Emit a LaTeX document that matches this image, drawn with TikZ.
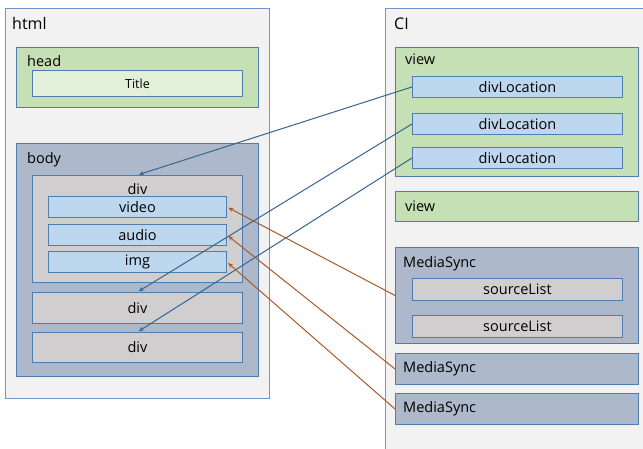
\documentclass[tikz,border=0pt]{standalone}
\usepackage{fontspec}
\setmainfont{Open Sans}
\usetikzlibrary{arrows.meta,positioning}
\definecolor{cEdge}{RGB}{80,125,175}
\definecolor{cFrame}{RGB}{110,150,200}
\definecolor{cPage}{RGB}{242,242,242}
\definecolor{cView}{RGB}{197,224,180}
\definecolor{cTitle}{RGB}{226,240,217}
\definecolor{cSync}{RGB}{173,185,202}
\definecolor{cDiv}{RGB}{208,206,206}
\definecolor{cItem}{RGB}{189,215,238}
\definecolor{cLink}{RGB}{55,100,145}
\definecolor{cMedia}{RGB}{170,90,40}

\begin{document}
\begin{tikzpicture}[x=1pt,y=-1pt,>={Stealth[length=5pt,width=4pt]},
  font=\fontsize{14.5}{16}\selectfont,
  box/.style={draw=cEdge,line width=0.9pt,anchor=north west,inner sep=0pt},
  frame/.style={box,draw=cFrame,fill=cPage},
  viewbox/.style={box,fill=cView},
  syncbox/.style={box,fill=cSync},
  divbox/.style={box,fill=cDiv},
  itembox/.style={box,fill=cItem},
  tag/.style={anchor=base west,inner sep=0pt},
  link/.style={->,cLink,line width=1pt,shorten >=1.5pt},
  media/.style={->,cMedia,line width=1pt,shorten >=1.5pt}]
  \clip (0,0) rectangle (643,448);
  % page side
  \node[frame,minimum width=264pt,minimum height=390pt] (html) at (5,8) {};
  \node[tag,font=\fontsize{16}{18}\selectfont] (html-tag) at ([shift={(7pt,-21pt)}]html.north west) {html};
  \node[viewbox,minimum width=242pt,minimum height=60pt] (head) at (16,47) {};
  \node[tag] (head-tag) at ([shift={(11pt,-19pt)}]head.north west) {head};
  \node[box,fill=cTitle,minimum width=210pt,minimum height=26pt,font=\fontsize{12.5}{14}\selectfont] (title) at (32,70) {Title};
  \node[syncbox,minimum width=242pt,minimum height=233pt] (body) at (16,143) {};
  \node[tag] (body-tag) at ([shift={(11pt,-20pt)}]body.north west) {body};
  \node[divbox,minimum width=210pt,minimum height=107pt] (div1) at (32,175) {};
  \node[anchor=base,inner sep=0pt] (div1-tag) at ([yshift=-19pt]div1.north) {div};
  \node[itembox,minimum width=178pt,minimum height=21pt] (video) at (48,196) {video};
  \node[itembox,minimum width=178pt,minimum height=21pt] (audio) at (48,224) {audio};
  \node[itembox,minimum width=178pt,minimum height=21pt] (img) at (48,251) {img};
  \node[divbox,minimum width=210pt,minimum height=31pt] (div2) at (32,292) {div};
  \node[divbox,minimum width=210pt,minimum height=30pt] (div3) at (32,332) {div};
  % CI side
  \node[frame,minimum width=270pt,minimum height=450pt] (ci) at (385,8) {};
  \node[tag,font=\fontsize{16}{18}\selectfont] (ci-tag) at ([shift={(9pt,-21pt)}]ci.north west) {CI};
  \node[viewbox,minimum width=243pt,minimum height=129pt] (view1) at (395,47) {};
  \node[tag] (view1-tag) at ([shift={(10pt,-17pt)}]view1.north west) {view};
  \node[itembox,minimum width=210pt,minimum height=21pt] (loc1) at (412,76) {divLocation};
  \node[itembox,minimum width=210pt,minimum height=21pt] (loc2) at (412,113) {divLocation};
  \node[itembox,minimum width=210pt,minimum height=21pt] (loc3) at (412,147) {divLocation};
  \node[viewbox,minimum width=243pt,minimum height=30pt] (view2) at (395,191) {};
  \node[anchor=west,inner sep=0pt] (view2-tag) at ([xshift=10pt]view2.west) {view};
  \node[syncbox,minimum width=243pt,minimum height=96pt] (sync1) at (395,247) {};
  \node[tag] (sync1-tag) at ([shift={(8pt,-20pt)}]sync1.north west) {MediaSync};
  \node[divbox,minimum width=210pt,minimum height=22pt] (src1) at (412,278) {sourceList};
  \node[divbox,minimum width=210pt,minimum height=22pt] (src2) at (412,315) {sourceList};
  \node[syncbox,minimum width=243pt,minimum height=31pt] (sync2) at (395,353) {};
  \node[anchor=west,inner sep=0pt] (sync2-tag) at ([xshift=8pt]sync2.west) {MediaSync};
  \node[syncbox,minimum width=243pt,minimum height=31pt] (sync3) at (395,393) {};
  \node[anchor=west,inner sep=0pt] (sync3-tag) at ([xshift=8pt]sync3.west) {MediaSync};
  % locations point at the divs, syncs at the media elements
  \draw[link] (loc1.west) -- (div1.north);
  \draw[link] (loc2.west) -- (div2.north);
  \draw[link] (loc3.west) -- (div3.north);
  \draw[media] (sync1.west) -- (video.east);
  \draw[media] (sync2.west) -- (audio.east);
  \draw[media] (sync3.west) -- (img.east);
\end{tikzpicture}
\end{document}
